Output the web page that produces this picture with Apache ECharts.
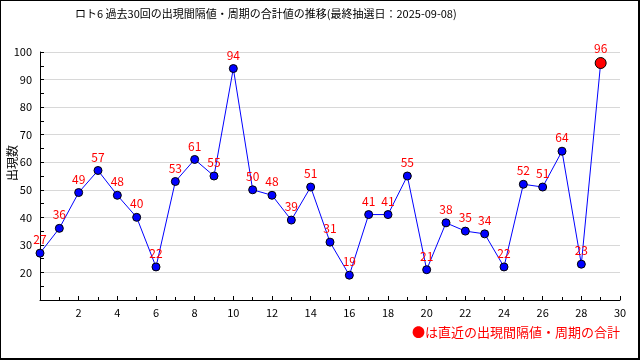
<!DOCTYPE html>
<html><head><meta charset="utf-8">
<script src="https://cdn.jsdelivr.net/npm/echarts@6/dist/echarts.min.js"></script>
<style>
html,body{margin:0;padding:0;background:#fff;}
#frame{position:absolute;left:0;top:0;width:640px;height:360px;box-sizing:border-box;border-left:1px solid #000;border-top:1px solid #000;border-right:2px solid #000;border-bottom:2px solid #000;}
#c{position:absolute;left:0;top:0;width:640px;height:360px;}
</style></head>
<body><div id="frame"></div><div id="c"></div>
<script>
const titleText = 'ロト6 過去30回の出現間隔値・周期の合計値の推移(最終抽選日：2025-09-08)';
const yAxisName = '出現数';
const noteText = '●は直近の出現間隔値・周期の合計';
const drawNumbers = [0,1,2,3,4,5,6,7,8,9,10,11,12,13,14,15,16,17,18,19,20,21,22,23,24,25,26,27,28,29];
const totals = [27,36,49,57,48,40,22,53,61,55,94,50,48,39,51,31,19,41,41,55,21,38,35,34,22,52,51,64,23,96];

const font = '"Noto Sans CJK JP", "Noto Sans", sans-serif';
const lastIdx = totals.length - 1;
const seriesData = totals.map((v, i) => {
  const item = { value: [drawNumbers[i], v] };
  if (i === lastIdx) {
    item.symbolSize = 11;
    item.itemStyle = { color: '#ff0000', borderColor: '#000', borderWidth: 1 };
  }
  return item;
});

const chart = echarts.init(document.getElementById('c'), null, { renderer: 'canvas' });
chart.setOption({
  animation: false,
  textStyle: { fontFamily: font },
  title: {
    text: titleText, left: 70, top: 3,
    textStyle: { fontSize: 11, fontWeight: 'normal', color: '#000', fontFamily: font }
  },
  grid: { left: 40, right: 20, top: 52, bottom: 60, containLabel: false, outerBoundsMode: 'none' },
  xAxis: {
    type: 'value', min: 0, max: 30, interval: 2,
    axisLine: { lineStyle: { color: '#000', width: 1 } },
    axisTick: { show: true, inside: true, length: 4, lineStyle: { color: '#000' } },
    minorTick: { show: true, splitNumber: 2, length: 3, lineStyle: { color: '#000' } },
    splitLine: { show: false },
    axisLabel: { color: '#000', fontSize: 11, margin: 7, fontFamily: font,
      formatter: v => v === 0 ? '' : String(v) }
  },
  yAxis: {
    type: 'value', min: 10, max: 100, interval: 10,
    axisLine: { show: true, lineStyle: { color: '#000', width: 1 } },
    axisTick: { show: true, inside: true, length: 4, lineStyle: { color: '#000' } },
    minorTick: { show: true, splitNumber: 2, length: 4, lineStyle: { color: '#000' } },
    splitLine: { show: true, lineStyle: { color: '#d8d8d8', width: 1 } },
    axisLabel: { color: '#000', fontSize: 11, margin: 8, fontFamily: font,
      formatter: v => v === 10 ? '' : String(v) }
  },
  series: [{
    type: 'line',
    data: seriesData,
    symbol: 'circle',
    symbolSize: 8,
    lineStyle: { color: '#0000ff', width: 1 },
    itemStyle: { color: '#0000ff', borderColor: '#000', borderWidth: 1 },
    label: { show: true, position: 'top', distance: 3, color: '#ff0000', fontSize: 12, fontFamily: font,
      formatter: p => String(p.value[1]) },
    z: 3
  }],
  graphic: [{
    type: 'text', right: 20, top: 326,
    style: { text: noteText, fill: '#ff0000', font: '13px ' + font }
  }, {
    type: 'text', x: 12, y: 163, rotation: Math.PI / 2,
    style: { text: yAxisName, fill: '#000', font: '12px ' + font, align: 'center', verticalAlign: 'middle' }
  }]
});
</script></body></html>
